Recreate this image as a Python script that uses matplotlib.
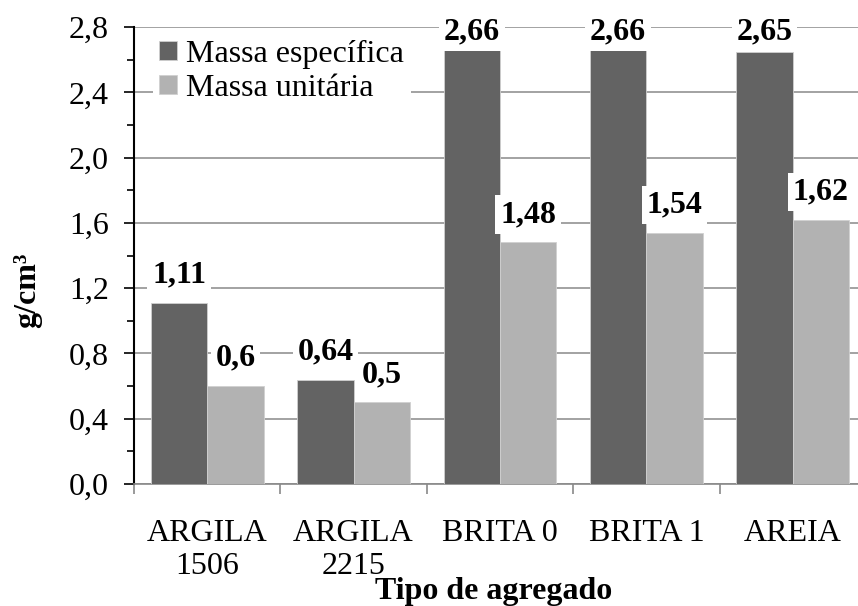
import matplotlib
matplotlib.use('Agg')
import matplotlib.pyplot as plt
from matplotlib.ticker import MultipleLocator, FuncFormatter

plt.rcParams['font.family'] = ['Liberation Serif', 'DejaVu Serif']

# dados
categorias = ['ARGILA\n1506', 'ARGILA\n2215', 'BRITA 0', 'BRITA 1', 'AREIA']
massa_especifica = [1.11, 0.64, 2.66, 2.66, 2.65]
massa_unitaria = [0.6, 0.5, 1.48, 1.54, 1.62]
rotulos_esp = ['1,11', '0,64', '2,66', '2,66', '2,65']
rotulos_uni = ['0,6', '0,5', '1,48', '1,54', '1,62']

cor_escura = '#636363'
cor_clara = '#b2b2b2'
cor_grade = '#898989'

fig = plt.figure(figsize=(8.58, 6.06), dpi=100)
# o gráfico original é cortado à direita
ax = fig.add_axes([0.1562, 0.2013, 0.853, 0.754])

w = 0.385
x = list(range(len(categorias)))
ax.bar([i - w / 2 for i in x], massa_especifica, width=w, color=cor_escura,
       edgecolor='#d0d0d0', linewidth=0.6, label='Massa específica', zorder=3)
ax.bar([i + w / 2 for i in x], massa_unitaria, width=w, color=cor_clara,
       edgecolor='#d0d0d0', linewidth=0.6, label='Massa unitária', zorder=3)

ax.set_xlim(-0.5, len(categorias) - 0.5)
ax.set_ylim(0, 2.8)

# rótulos de dados (limitados ao topo da área do gráfico)
for i in x:
    for v, txt, dx in [(massa_especifica[i], rotulos_esp[i], -w / 2),
                       (massa_unitaria[i], rotulos_uni[i], w / 2)]:
        ax.text(i + dx, min(v + 0.17, 2.772), txt, ha='center', va='center',
                fontsize=23, fontweight='bold', zorder=5,
                bbox=dict(boxstyle='square,pad=0.15', fc='white', ec='none'))

# eixo y
ax.yaxis.set_major_locator(MultipleLocator(0.4))
ax.yaxis.set_minor_locator(MultipleLocator(0.2))
ax.yaxis.set_major_formatter(FuncFormatter(lambda v, p: f'{v:.1f}'.replace('.', ',')))
ax.tick_params(axis='y', which='major', length=7, width=1.2, pad=11, labelsize=23,
               direction='out', color='black')
ax.tick_params(axis='y', which='minor', length=5, width=1.2, direction='out', color='black')
ax.grid(axis='y', which='major', color=cor_grade, linewidth=1.1, zorder=0)
ax.set_axisbelow(True)

# eixo x: marcas nas divisões das categorias
ax.set_xticks(x)
ax.set_xticklabels(categorias)
ax.set_xticks([i - 0.5 for i in range(len(categorias) + 1)], minor=True)
ax.tick_params(axis='x', which='major', length=0, pad=25, labelsize=23)
ax.tick_params(axis='x', which='minor', length=7, width=1.2, color=cor_grade, direction='out')

for s in ['top', 'right']:
    ax.spines[s].set_visible(False)
ax.spines['left'].set_color('black')
ax.spines['left'].set_linewidth(1.5)
ax.spines['bottom'].set_color(cor_grade)
ax.spines['bottom'].set_linewidth(1.2)

leg = ax.legend(loc='upper left', bbox_to_anchor=(0.178, 0.945), bbox_transform=fig.transFigure,
                fontsize=23, frameon=True, fancybox=False, edgecolor='none',
                facecolor='white', framealpha=1, handlelength=0.55, handleheight=0.55,
                handletextpad=0.3, labelspacing=0.15, borderpad=0.2, borderaxespad=0)
leg.set_zorder(6)

fig.text(28 / 858, 1 - 290 / 606, 'g/cm³', rotation=90, ha='center', va='center',
         fontsize=23, fontweight='bold')
fig.text(494 / 858, 1 - 592 / 606, 'Tipo de agregado', ha='center', va='center',
         fontsize=23, fontweight='bold')

fig.savefig('out.png', dpi=100)
